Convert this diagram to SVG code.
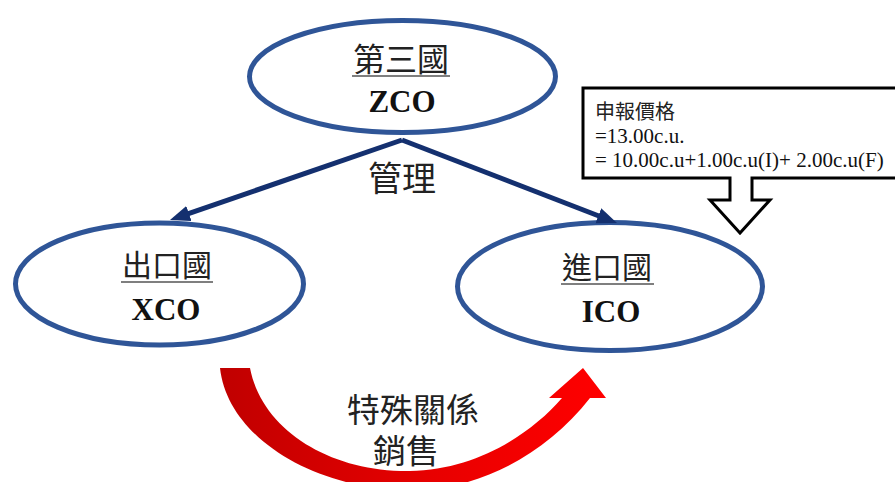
<svg xmlns="http://www.w3.org/2000/svg" width="895" height="482" viewBox="0 0 895 482">
<style>
.node{fill:#ffffff;stroke:#2f5597;stroke-width:5}
.cjk{font-family:"Noto Sans CJK TC","Noto Sans CJK SC",sans-serif;fill:#222222}
.code{font-family:"Liberation Serif","Times New Roman",serif;font-weight:bold;fill:#111111}
.ul{stroke:#555555;stroke-width:1.5}
.link{stroke:#14306f;stroke-width:5;fill:none}
.note{font-family:"Liberation Serif","Times New Roman",serif;font-size:21px;fill:#111111}
</style>
<defs>
<marker id="ah" markerUnits="userSpaceOnUse" markerWidth="22" markerHeight="18" refX="2" refY="8" orient="auto">
<path d="M0,0 L20,8 L0,16 Z" fill="#14306f"/>
</marker>
<linearGradient id="redg" gradientUnits="userSpaceOnUse" x1="220" y1="0" x2="606" y2="0">
<stop offset="0" stop-color="#c00000"/>
<stop offset="0.55" stop-color="#e80000"/>
<stop offset="1" stop-color="#ff0000"/>
</linearGradient>
</defs>

<g id="node-zco">
<ellipse class="node" cx="402.5" cy="76.5" rx="153" ry="56"/>
<text class="cjk" x="401" y="71" font-size="32" text-anchor="middle">第三國</text>
<line class="ul" x1="352" y1="76" x2="450" y2="76"/>
<text class="code" x="402" y="112" font-size="31" text-anchor="middle">ZCO</text>
</g>

<g id="node-xco">
<ellipse class="node" cx="159.5" cy="284" rx="144" ry="61"/>
<text class="cjk" x="167" y="276" font-size="30" text-anchor="middle">出口國</text>
<line class="ul" x1="121" y1="282" x2="213" y2="282"/>
<text class="code" x="166" y="320" font-size="31" text-anchor="middle">XCO</text>
</g>

<g id="node-ico">
<ellipse class="node" cx="610" cy="286.5" rx="152.5" ry="64"/>
<text class="cjk" x="607" y="278" font-size="30" text-anchor="middle">進口國</text>
<line class="ul" x1="561" y1="284" x2="654" y2="284"/>
<text class="code" x="611" y="322" font-size="31" text-anchor="middle">ICO</text>
</g>

<g id="connectors">
<path class="link" d="M402,140 L187,214.1" marker-end="url(#ah)"/>
<path class="link" d="M402,140 L600.2,216.5" marker-end="url(#ah)"/>
<text class="cjk" x="402" y="191" font-size="34" text-anchor="middle" fill="#111111">管理</text>
<path d="M220,368 C228,440 320,492 415,490 C480,489 545,455 590,398 L606,398 L583,368 L549,398 L562,398 C530,435 475,470 410,471 C330,472 262,430 250,368 Z" fill="url(#redg)"/>
<text class="cjk" font-size="33" text-anchor="middle" fill="#111111"><tspan x="413" y="422">特殊關係</tspan><tspan x="406" y="463">銷售</tspan></text>
</g>

<g id="node-callout">
<path d="M583,88 L898,88 L898,178 L752,178 L752,200 L770,200 L740,233 L710,200 L730,200 L730,178 L583,178 Z" fill="#ffffff" stroke="#000000" stroke-width="3"/>
<text class="cjk" x="595" y="119" font-size="20" fill="#595959">申報價格</text>
<text class="note" x="595" y="143">=13.00c.u.</text>
<text class="note" x="595" y="167">= 10.00c.u+1.00c.u(I)+ 2.00c.u(F)</text>
</g>
</svg>
